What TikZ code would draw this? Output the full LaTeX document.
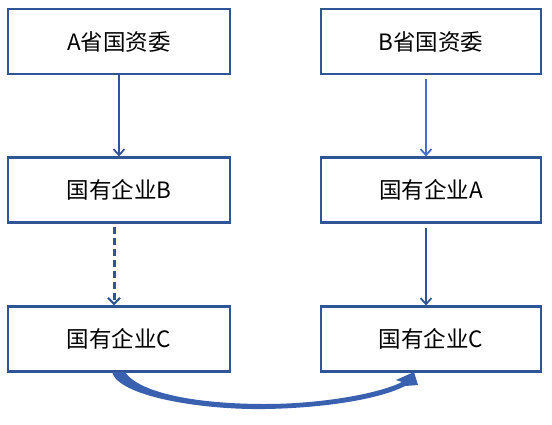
\documentclass[tikz,border=0pt]{standalone}
\usepackage{fontspec}
\setmainfont{Noto Sans CJK SC}
\usetikzlibrary{arrows.meta}
\definecolor{boxblue}{HTML}{2F5597}
\definecolor{lightblue}{HTML}{4472C4}
\definecolor{curveblue}{HTML}{3A60B0}
\tikzset{
  box/.style={draw=boxblue, line width=2.2pt, fill=white, minimum width=222pt, minimum height=65pt, inner sep=0pt, font=\fontsize{22.5}{26}\selectfont, text=black},
  conn/.style={line width=1.8pt, -{Straight Barb[length=6pt,width=11pt,line width=1.8pt]}},
}
\begin{document}
\begin{tikzpicture}[x=1pt,y=-1pt]
\useasboundingbox (0,0) rectangle (552,424);
\node[box] (a1) at (119,41.5) {A省国资委};
\node[box] (a2) at (119,190) {国有企业B};
\node[box] (a3) at (119,339) {国有企业C};
\node[box, minimum width=220pt] (b1) at (431,41.5) {B省国资委};
\node[box, minimum width=220pt] (b2) at (431,190) {国有企业A};
\node[box, minimum width=220pt] (b3) at (431,339) {国有企业C};
\draw[conn, boxblue] (a1.south) -- (a2.north);
\draw[boxblue, line width=3pt, dash pattern=on 7pt off 4pt, -{Straight Barb[length=6pt,width=12pt,line width=2.2pt]}] ([xshift=-5pt,yshift=-3pt]a2.south) -- ([xshift=-5pt]a3.north);
\draw[conn, lightblue] ([xshift=-5pt,yshift=-4pt]b1.south) -- ([xshift=-5pt]b2.north);
\draw[conn, boxblue] ([xshift=-5pt,yshift=-4pt]b2.south) -- ([xshift=-5pt]b3.north);
\fill[curveblue] (112,372) .. controls (118,396) and (200,410) .. (265,409)
  .. controls (325,408) and (380,399) .. (405,386)
  -- (418,385) -- (414,372) -- (396,380) -- (402,382)
  .. controls (378,394) and (320,404) .. (265,404)
  .. controls (200,404) and (140,394) .. (125,372) -- cycle;
\end{tikzpicture}
\end{document}
